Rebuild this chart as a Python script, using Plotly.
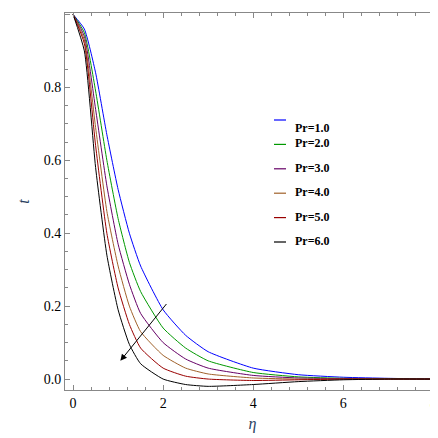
import plotly.graph_objects as go

eta = [0, 0.25, 0.5, 0.75, 1, 1.25, 1.5, 2, 2.5, 3, 4, 5, 6, 7, 8]
t_pr1 = [1, 0.96, 0.84, 0.67, 0.52, 0.40, 0.31, 0.19, 0.12, 0.075, 0.03, 0.012, 0.005, 0.002, 0]
t_pr2 = [1, 0.95, 0.79, 0.60, 0.44, 0.32, 0.24, 0.14, 0.085, 0.05, 0.018, 0.006, 0.002, 0.001, 0]
t_pr3 = [1, 0.94, 0.74, 0.53, 0.37, 0.26, 0.18, 0.10, 0.055, 0.03, 0.01, 0.003, 0.001, 0, 0]
t_pr4 = [1, 0.93, 0.69, 0.46, 0.31, 0.20, 0.13, 0.065, 0.03, 0.014, 0.003, 0, 0, 0, 0]
t_pr5 = [1, 0.92, 0.64, 0.40, 0.25, 0.15, 0.085, 0.03, 0.008, 0.0, -0.004, -0.002, 0, 0, 0]
t_pr6 = [1, 0.90, 0.58, 0.34, 0.19, 0.095, 0.042, 0.0, -0.015, -0.02, -0.015, -0.007, -0.002, 0, 0]
series = [t_pr1, t_pr2, t_pr3, t_pr4, t_pr5, t_pr6]
labels = ["Pr=1.0", "Pr=2.0", "Pr=3.0", "Pr=4.0", "Pr=5.0", "Pr=6.0"]
colors = ["#0000ff", "#009900", "#660066", "#a0612a", "#990000", "#000000"]
serif = "Times New Roman, Liberation Serif, serif"

fig = go.Figure()
for ys, name, c in zip(series, labels, colors):
    fig.add_trace(go.Scatter(x=eta, y=ys, mode="lines", name=name,
                             line=dict(color=c, width=1, shape="spline", smoothing=0.5)))

# legend drawn by hand (Mathematica style)
for i, (name, c) in enumerate(zip(labels, colors)):
    py = 112 + 24.4 * i
    yp = (382 - py) / 377
    fig.add_shape(type="line", xref="paper", yref="paper",
                  x0=(266 - 57) / 375, x1=(278 - 57) / 375, y0=yp, y1=yp,
                  line=dict(color=c, width=1.2))
    fig.add_annotation(xref="paper", yref="paper", x=(285 - 57) / 375, y=yp, yshift=1,
                       text="<b>" + name + "</b>", showarrow=False, xanchor="left",
                       font=dict(family=serif, size=12, color="black"))

# arrow: increasing Pr
fig.add_annotation(x=1.05, y=0.05, ax=2.1, ay=0.21, xref="x", yref="y",
                   axref="x", ayref="y", text="", showarrow=True,
                   arrowhead=2, arrowsize=1.3, arrowwidth=1, arrowcolor="black")

axis_common = dict(showgrid=False, zeroline=False, mirror="allticks", ticks="inside",
                   showline=True, linecolor="#888", linewidth=1, ticklen=5,
                   tickcolor="#888", minor=dict(ticks="inside", ticklen=3, tickcolor="#888"),
                   tickfont=dict(family=serif, size=14, color="black"))
fig.update_xaxes(range=[-0.18, 8.15], dtick=2, minor_dtick=0.4,
                 title=dict(text="<i>η</i>", font=dict(family=serif, size=16), standoff=8),
                 **axis_common)
fig.update_yaxes(range=[-0.03, 1.004], dtick=0.2, tickformat=".1f", minor_dtick=0.05,
                 title=dict(text="<i>t</i>", font=dict(family=serif, size=16), standoff=10),
                 **axis_common)
fig.update_layout(width=438, height=438, showlegend=False,
                  plot_bgcolor="white", paper_bgcolor="white",
                  margin=dict(l=57, r=6, t=5, b=56))
fig.write_html("out.html")
